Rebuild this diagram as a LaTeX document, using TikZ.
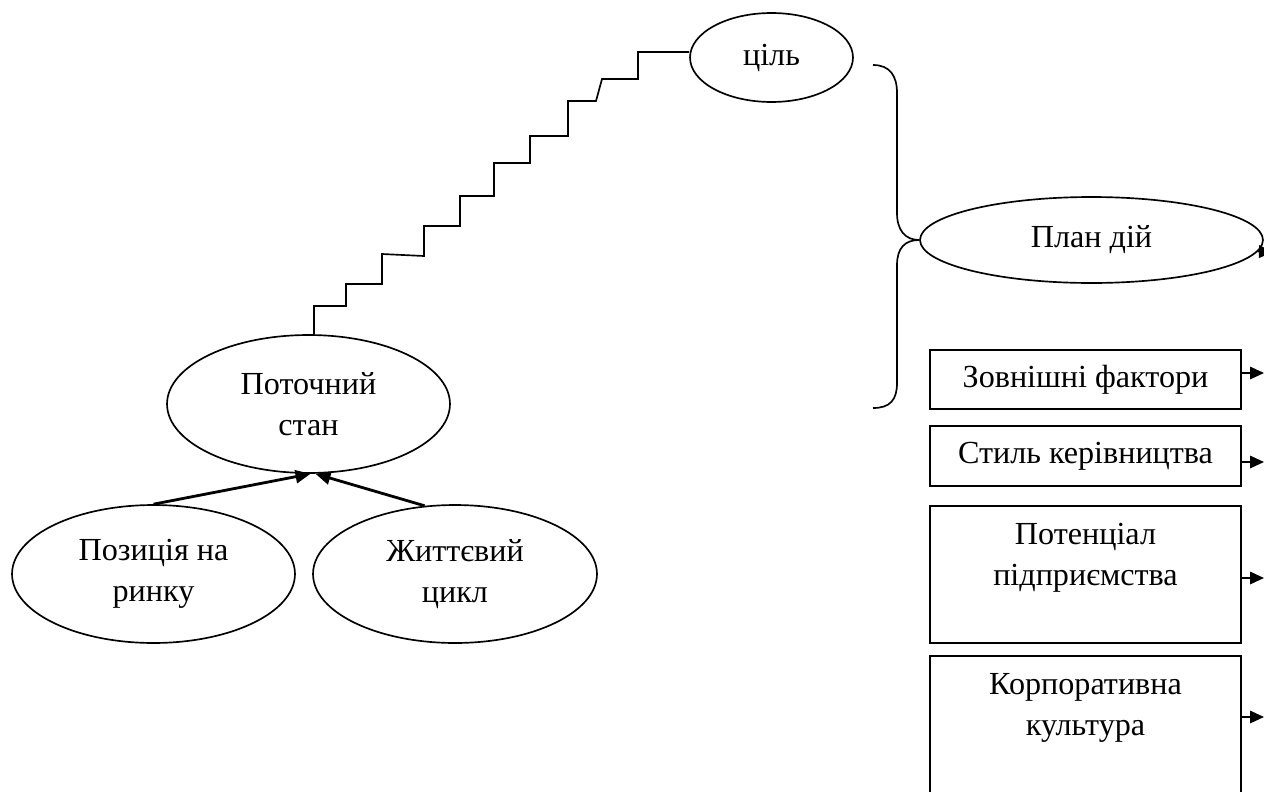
\documentclass[tikz,border=0pt]{standalone}
\usepackage{fontspec}
\setmainfont{Liberation Serif}
\usetikzlibrary{shapes.geometric,arrows.meta,calc}
\begin{document}
\begin{tikzpicture}[x=0.02cm,y=-0.02cm,
  font=\fontsize{18.3}{23.6}\selectfont,
  every node/.style={inner sep=0pt},
  ln/.style={line width=0.95pt},
  ell/.style={draw, ellipse, ln, align=center},
  boxnode/.style={draw, rectangle, ln, minimum width=6.22cm, align=center},
  arr/.style={ln, -{Triangle[length=0.28cm,width=0.25cm]}},
  thickarr/.style={line width=1.6pt, -{Triangle[length=0.3cm,width=0.26cm]}}]
\useasboundingbox (0,0) rectangle (1264,791);
\clip (0,0) rectangle (1264,791);

% ellipses
\node[ell, minimum width=3.26cm, minimum height=1.78cm] (ciel) at (771.5,57.5) {ціль};
\node[ell, minimum width=5.66cm, minimum height=2.76cm] (potoch) at (308.5,404) {Поточний\\стан};
\node[ell, minimum width=5.66cm, minimum height=2.76cm] (poz) at (153.5,574) {Позиція на\\ринку};
\node[ell, minimum width=5.68cm, minimum height=2.76cm] (zhyt) at (455,574) {Життєвий\\цикл};
\node[ell, minimum width=6.86cm, minimum height=1.72cm] (plan) at (1091.5,240) {План дій};

% boxes
\node[boxnode, minimum height=1.18cm] (b1) at (1085.5,379.5) {Зовнішні фактори};
\node[boxnode, minimum height=1.20cm] (b2) at (1085.5,456) {Стиль керівництва};
\node[boxnode, minimum height=2.74cm] (b3) at (1085.5,574.5) {};
\node[align=center] (b3t) at (1085.5,558) {Потенціал\\підприємства};
\node[boxnode, minimum height=3.00cm] (b4) at (1085.5,731) {};
\node[align=center] (b4t) at (1085.5,708) {Корпоративна\\культура};

% staircase from current state to goal
\coordinate (sx) at (314,0);
\draw[ln] (potoch.north -| sx) -- (314,306) -- (346,306) -- (346,284) -- (382,284)
  -- (382,254) -- (424,256) -- (424,226) -- (460,226) -- (460,196) -- (494,196)
  -- (494,163) -- (530,163) -- (530,136) -- (568,136) -- (568,101) -- (596,101)
  -- (602,79) -- (638,79) -- (638,52) -- (ciel.west |- 0,52);

% arrows into current state
\draw[thickarr] (poz.north) -- ($(potoch.south)+(2,0)$);
\draw[thickarr] (zhyt.114) -- ($(potoch.south)+(7,0)$);

% brace
\coordinate (bt) at (873,65);
\coordinate (bb) at (873,408);
\draw[ln] (bt) .. controls (890,65) and (897,76) .. (897,93) -- (897,213)
  .. controls (897,230) and (905,240) .. (plan.west)
  .. controls (905,240) and (897,248) .. (897,265) -- (897,383)
  .. controls (897,400) and (890,408) .. (bb);

% arrows on the right edge
\coordinate (tp) at (1273,252);
\draw[arr] (plan.-4) -- (tp);
\coordinate (t1) at (1264,373);
\coordinate (t2) at (1264,462);
\coordinate (t3) at (1264,578);
\coordinate (t4) at (1264,717);
\draw[arr] (b1.east |- t1) -- (t1);
\draw[arr] (b2.east |- t2) -- (t2);
\draw[arr] (b3.east |- t3) -- (t3);
\draw[arr] (b4.east |- t4) -- (t4);
\end{tikzpicture}
\end{document}
